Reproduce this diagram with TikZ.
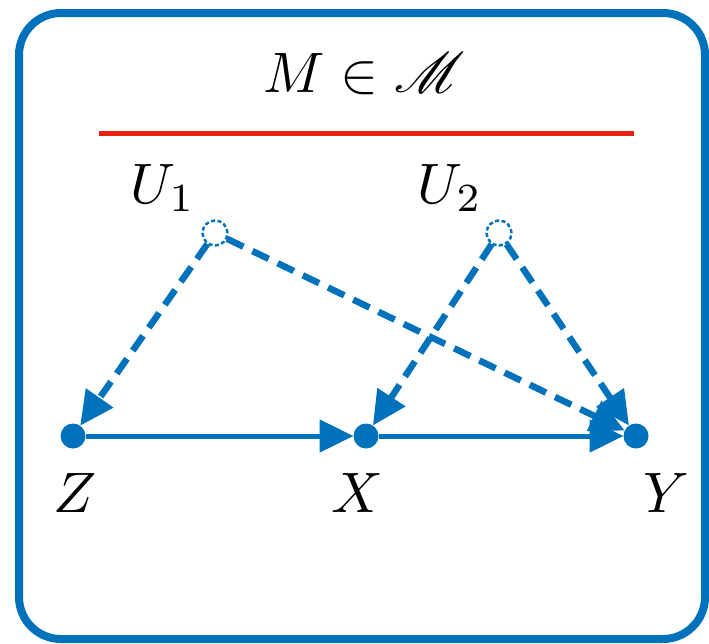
\documentclass[tikz,border=0pt]{standalone}
\usepackage{graphicx}
\usepackage{mathrsfs}
\usetikzlibrary{arrows.meta}
\definecolor{cblue}{RGB}{0,114,188}
\definecolor{cred}{RGB}{232,32,16}
\newcommand{\bigmath}[1]{\scalebox{5.7}{$#1$}}
\begin{document}
\begin{tikzpicture}[x=1pt,y=-1pt,
  dot/.style={circle,fill=cblue,draw=none,minimum size=25pt,inner sep=0pt,outer sep=0pt},
  hid/.style={circle,fill=white,draw=cblue,line width=2.5pt,dash pattern=on 4pt off 2.5pt,minimum size=25pt,inner sep=0pt,outer sep=1pt},
  lab/.style={anchor=base,inner sep=0pt},
  tip/.style={-{Triangle[length=34pt,width=32pt]}},
  solidarr/.style={tip,draw=cblue,line width=5pt},
  dasharr/.style={tip,draw=cblue,line width=6.5pt,dash pattern=on 18pt off 10pt}]
\useasboundingbox (0,0) rectangle (709,643);
\draw[cblue,line width=8pt,rounded corners=42pt] (19,13) rectangle (705,639);
\node[lab] (title) at (364,92) {\bigmath{M \in \mathscr{M}}};
\coordinate (r1) at (99,133);
\coordinate (r2) at (634,133);
\draw[cred,line width=5pt] (r1) -- (r2);
\node[dot] (Z) at (73,436) {};
\node[dot] (X) at (366,436) {};
\node[dot] (Y) at (636,436) {};
\node[hid] (U1) at (215,233) {};
\node[hid] (U2) at (499,233) {};
\node[lab] (U1l) at (163,203) {\bigmath{U_1}};
\node[lab] (U2l) at (450,203) {\bigmath{U_2}};
\node[lab] (Zl) at (75,512) {\bigmath{Z}};
\node[lab] (Xl) at (357,512) {\bigmath{X}};
\node[lab] (Yl) at (666,512) {\bigmath{Y}};
\draw[solidarr] (Z) -- (X);
\draw[solidarr] (X) -- (Y);
\draw[dasharr] (U1) -- (Z);
\draw[dasharr] (U1) -- (Y);
\draw[dasharr] (U2) -- (X);
\draw[dasharr] (U2) -- (Y);
\end{tikzpicture}
\end{document}
